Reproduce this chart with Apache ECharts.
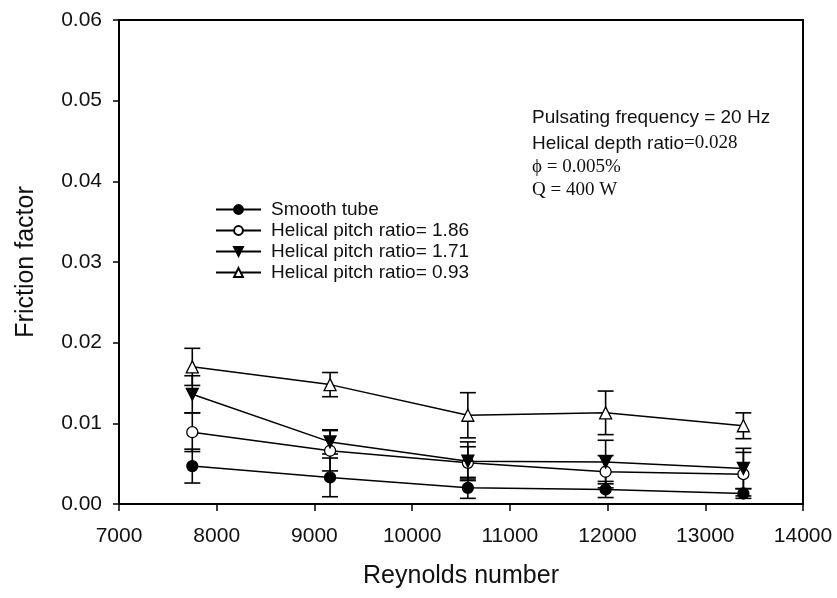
<!DOCTYPE html>
<html>
<head>
<meta charset="utf-8">
<script src="https://cdn.jsdelivr.net/npm/echarts@6/dist/echarts.min.js"></script>
<style>
html,body{margin:0;padding:0;background:#fff;}
#chart{width:837px;height:598px;}
</style>
</head>
<body>
<div id="chart"></div>
<script>
// Reynolds numbers of the test points
const reynolds = [7750, 9160, 10570, 11980, 13390];

// Friction factor (mean) and error half-width for each configuration
const smoothTube = [0.0047, 0.0033, 0.0020, 0.0018, 0.0013];
const smoothErr  = [0.0021, 0.0024, 0.0013, 0.0010, 0.0006];

const pitch186    = [0.0089, 0.0066, 0.0051, 0.0040, 0.0037];
const pitch186Err = [0.0024, 0.0025, 0.0020, 0.0020, 0.0027];

const pitch171    = [0.0136, 0.0077, 0.0053, 0.0052, 0.0044];
const pitch171Err = [0.0023, 0.0015, 0.0024, 0.0027, 0.0025];

const pitch093    = [0.0170, 0.0148, 0.0110, 0.0113, 0.0097];
const pitch093Err = [0.0023, 0.0015, 0.0028, 0.0027, 0.0016];

const seriesNames = [
  'Smooth tube',
  'Helical pitch ratio= 1.86',
  'Helical pitch ratio= 1.71',
  'Helical pitch ratio= 0.93'
];

const xTicks = { min: 7000, max: 14000, interval: 1000 };
const yTicks = { min: 0, max: 0.06, interval: 0.01 };

const FONT = '"Liberation Sans", Arial, sans-serif';
const SERIF = '"Liberation Serif", "Times New Roman", serif';

function pairs(ys) { return reynolds.map((x, i) => [x, ys[i]]); }
function errData(ys, es) { return reynolds.map((x, i) => [x, ys[i] - es[i], ys[i] + es[i]]); }

// Vertical error bar with horizontal caps
function renderErr(params, api) {
  const x = api.value(0);
  const lo = api.coord([x, api.value(1)]);
  const hi = api.coord([x, api.value(2)]);
  const w = 8;
  const st = { stroke: '#000', lineWidth: 1.6 };
  return {
    type: 'group',
    children: [
      { type: 'line', shape: { x1: lo[0], y1: lo[1], x2: hi[0], y2: hi[1] }, style: st },
      { type: 'line', shape: { x1: lo[0] - w, y1: lo[1], x2: lo[0] + w, y2: lo[1] }, style: st },
      { type: 'line', shape: { x1: hi[0] - w, y1: hi[1], x2: hi[0] + w, y2: hi[1] }, style: st }
    ]
  };
}

const styles = [
  { symbol: 'circle', size: 11, fill: '#000', rotate: 0 },
  { symbol: 'circle', size: 11, fill: '#fff', rotate: 0 },
  { symbol: 'triangle', size: 12, fill: '#000', rotate: 180 },
  { symbol: 'triangle', size: 12, fill: '#fff', rotate: 0 }
];
const means = [smoothTube, pitch186, pitch171, pitch093];
const errs = [smoothErr, pitch186Err, pitch171Err, pitch093Err];

const series = [];
means.forEach((m, k) => {
  series.push({
    name: seriesNames[k] + ' err',
    type: 'custom',
    renderItem: renderErr,
    data: errData(m, errs[k]),
    z: 1,
    silent: true
  });
});
means.forEach((m, k) => {
  const s = styles[k];
  series.push({
    name: seriesNames[k],
    type: 'line',
    data: pairs(m),
    symbol: s.symbol,
    symbolSize: s.size,
    symbolRotate: s.rotate,
    showAllSymbol: true,
    lineStyle: { color: '#000', width: 1.5 },
    itemStyle: { color: s.fill, borderColor: '#000', borderWidth: 1.3 },
    z: 3 + k
  });
});

const chart = echarts.init(document.getElementById('chart'));
chart.setOption({
  animation: false,
  backgroundColor: '#fff',
  grid: { left: 119, right: 34, top: 20, bottom: 94, show: true, borderColor: '#000', borderWidth: 2 },
  xAxis: {
    type: 'value', min: xTicks.min, max: xTicks.max, interval: xTicks.interval,
    name: 'Reynolds number', nameLocation: 'middle', nameGap: 60,
    nameTextStyle: { fontFamily: FONT, fontSize: 25, color: '#111' },
    axisLine: { show: true, lineStyle: { color: '#000', width: 2 } },
    axisTick: { show: true, inside: false, length: 7, lineStyle: { color: '#000', width: 1.5 } },
    axisLabel: { fontFamily: FONT, fontSize: 21, color: '#111', margin: 22,
      formatter: v => String(v) },
    splitLine: { show: false }
  },
  yAxis: {
    type: 'value', min: yTicks.min, max: yTicks.max, interval: yTicks.interval,
    name: 'Friction factor', nameLocation: 'middle', nameGap: 80,
    nameTextStyle: { fontFamily: FONT, fontSize: 25, color: '#111' },
    axisLine: { show: true, lineStyle: { color: '#000', width: 2 } },
    axisTick: { show: true, inside: false, length: 6, lineStyle: { color: '#000', width: 1.5 } },
    axisLabel: { fontFamily: FONT, fontSize: 21, color: '#111', margin: 17,
      formatter: v => v.toFixed(2) },
    splitLine: { show: false }
  },
  legend: {
    data: seriesNames,
    orient: 'vertical',
    left: 210, top: 195,
    itemWidth: 45, itemHeight: 11, itemGap: 2,
    textStyle: { fontFamily: FONT, fontSize: 19, color: '#111', padding: [0, 0, 0, 5] },
    selectedMode: false
  },
  graphic: [
    { type: 'text', left: 532, top: 108, style: { text: 'Pulsating frequency = 20 Hz', font: '19px ' + FONT, fill: '#111' } },
    { type: 'text', left: 532, top: 134, style: {
      text: '{a|Helical depth ratio}{b|=0.028}',
      rich: { a: { font: '19px ' + FONT, fill: '#111' }, b: { font: '19px ' + SERIF, fill: '#111' } } } },
    { type: 'text', left: 532, top: 158, style: { text: 'ϕ = 0.005%', font: '19px ' + SERIF, fill: '#111' } },
    { type: 'text', left: 532, top: 181, style: { text: 'Q = 400 W', font: '19px ' + SERIF, fill: '#111' } }
  ],
  series: series
});
</script>
</body>
</html>
